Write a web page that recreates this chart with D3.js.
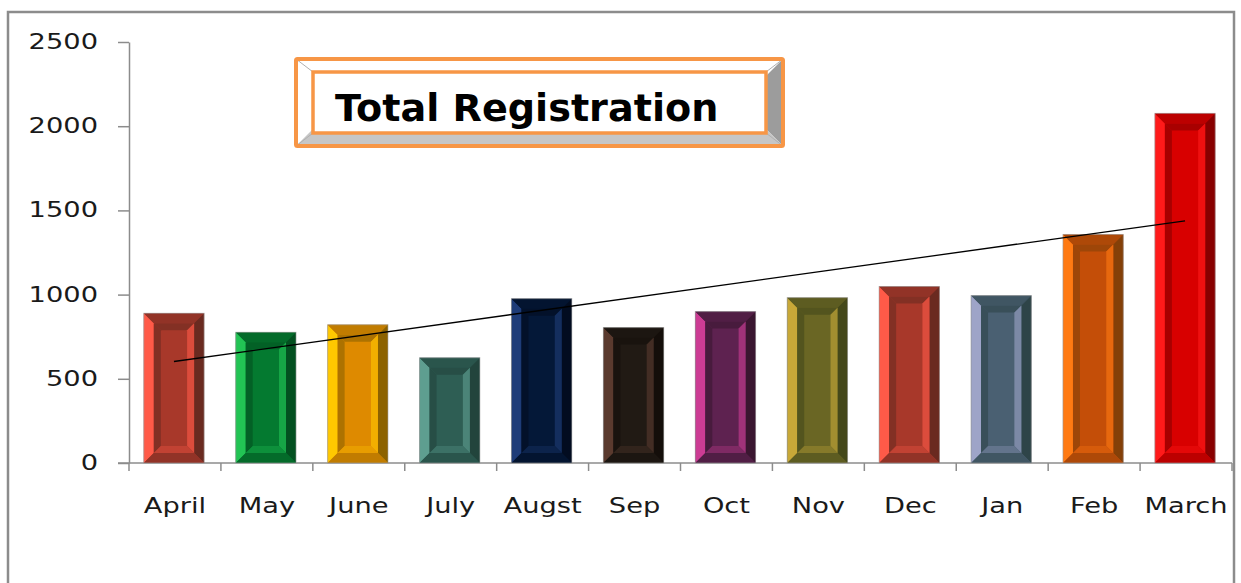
<!DOCTYPE html>
<html>
<head>
<meta charset="utf-8">
<script src="https://cdn.jsdelivr.net/npm/d3@7"></script>
<style>
  html, body { margin: 0; padding: 0; background: #fff; }
  svg { display: block; }
</style>
</head>
<body>
<div id="chart"></div>
<script>
// data
const months = ['April', 'May', 'June', 'July', 'Augst', 'Sep', 'Oct', 'Nov', 'Dec', 'Jan', 'Feb', 'March'];
const registrations = [889, 776, 821, 625, 976, 804, 899, 982, 1048, 994, 1357, 2076];
const yTicks = [0, 500, 1000, 1500, 2000, 2500];
const chartTitle = 'Total Registration';

// bevel colours for each bar: [face, light, dark]
const barColors = [
    ['#a8382a', '#ff5a48', '#6a2a20'],
    ['#047a30', '#22c454', '#035020'],
    ['#de8a00', '#ffc800', '#8c6200'],
    ['#2e5e54', '#5e9e90', '#22443c'],
    ['#041838', '#1e3c78', '#020c20'],
    ['#211a14', '#5a3a2e', '#140e0a'],
    ['#5e2250', '#cc3c94', '#3a1630'],
    ['#6a6624', '#c8a838', '#44481a'],
    ['#a8382a', '#ff5a48', '#6a2a20'],
    ['#4a6072', '#9ea4c8', '#2e4448'],
    ['#c44e08', '#ff7a12', '#844008'],
    ['#d80000', '#ff1a1a', '#880000']
];

const width = 1241, height = 583;
const plot = { left: 129, right: 1232, top: 42, bottom: 463 };
const axisColor = '#8c8c8c';

const svg = d3.select('#chart')
    .append('svg')
    .attr('width', width)
    .attr('height', height);

// outer chart frame
svg.append('rect')
    .attr('x', 8).attr('y', 12)
    .attr('width', 1226).attr('height', 620)
    .attr('fill', 'none')
    .attr('stroke', axisColor)
    .attr('stroke-width', 2.5);

const x = d3.scaleBand()
    .domain(months)
    .range([plot.left, plot.right]);

const y = d3.scaleLinear()
    .domain([0, 2500])
    .range([plot.bottom, plot.top]);

// y axis
const yAxis = svg.append('g')
    .attr('transform', `translate(${plot.left},0)`)
    .call(d3.axisLeft(y).tickValues(yTicks).tickFormat(d3.format('d')).tickSize(11).tickSizeOuter(0));
yAxis.select('.domain').attr('stroke', axisColor).attr('stroke-width', 1.5);
yAxis.selectAll('.tick line').attr('stroke', axisColor).attr('stroke-width', 1.5);
yAxis.selectAll('.tick text')
    .attr('font-family', 'DejaVu Sans, Verdana, sans-serif')
    .attr('font-size', 22)
    .attr('fill', '#1a1a1a')
    .attr('x', null)
    .attr('dy', null)
    .attr('dominant-baseline', 'central')
    .attr('transform', 'translate(-31,-1) scale(1.24,1)');

// x axis line and band edge ticks
svg.append('line')
    .attr('x1', plot.left - 11).attr('x2', plot.right)
    .attr('y1', plot.bottom).attr('y2', plot.bottom)
    .attr('stroke', axisColor).attr('stroke-width', 1.5);

const edges = months.map(m => x(m)).concat([x(months[months.length - 1]) + x.bandwidth()]);
svg.append('g')
    .selectAll('line')
    .data(edges)
    .join('line')
    .attr('x1', d => d).attr('x2', d => d)
    .attr('y1', plot.bottom).attr('y2', plot.bottom + 8)
    .attr('stroke', axisColor).attr('stroke-width', 1.5);

svg.append('g')
    .selectAll('text')
    .data(months)
    .join('text')
    .attr('transform', d => `translate(${x(d) + x.bandwidth() / 2},513) scale(1.24,1)`)
    .attr('text-anchor', 'middle')
    .attr('font-family', 'DejaVu Sans, Verdana, sans-serif')
    .attr('font-size', 22)
    .attr('fill', '#1a1a1a')
    .text(d => d);

// bars with a picture-frame bevel
const barW = x.bandwidth() * 0.656;
const outerB = 10, innerB = 7;

function ring(g, x0, y0, x1, y1, b, cols) {
    // cols: [left, top, right, bottom]
    const faces = [
        [[x0, y0], [x0 + b, y0 + b], [x0 + b, y1 - b], [x0, y1]],
        [[x0, y0], [x1, y0], [x1 - b, y0 + b], [x0 + b, y0 + b]],
        [[x1, y0], [x1, y1], [x1 - b, y1 - b], [x1 - b, y0 + b]],
        [[x0, y1], [x0 + b, y1 - b], [x1 - b, y1 - b], [x1, y1]]
    ];
    faces.forEach((pts, i) => {
        g.append('polygon')
            .attr('points', pts.map(p => p.join(',')).join(' '))
            .attr('fill', cols[i]);
    });
}

const bars = svg.append('g')
    .selectAll('g')
    .data(registrations)
    .join('g');

bars.each(function(v, i) {
    const g = d3.select(this);
    const [face, light, dark] = barColors[i];
    const mid = d3.interpolateRgb(face, dark)(0.35);
    const x0 = x(months[i]) + (x.bandwidth() - barW) / 2 - 1;
    const x1 = x0 + barW;
    const y0 = y(v), y1 = y(0);

    g.append('rect')
        .attr('x', x0).attr('y', y0)
        .attr('width', barW).attr('height', y1 - y0)
        .attr('fill', face);

    ring(g, x0, y0, x1, y1, outerB, [light, mid, dark, mid]);
    ring(g, x0 + outerB, y0 + outerB, x1 - outerB, y1 - outerB, innerB,
        [d3.interpolateRgb(face, dark)(0.6), d3.interpolateRgb(face, dark)(0.6),
         d3.interpolateRgb(face, light)(0.6), d3.interpolateRgb(face, light)(0.3)]);

    g.append('rect')
        .attr('x', x0).attr('y', y0)
        .attr('width', barW).attr('height', y1 - y0)
        .attr('fill', 'none')
        .attr('stroke', '#9a9a9a')
        .attr('stroke-opacity', 0.6)
        .attr('stroke-width', 1);
});

// linear trend line (least squares over month index)
const n = registrations.length;
const idx = d3.range(1, n + 1);
const mx = d3.mean(idx), my = d3.mean(registrations);
const slope = d3.sum(idx, (k, j) => (k - mx) * (registrations[j] - my)) / d3.sum(idx, k => (k - mx) ** 2);
const intercept = my - slope * mx;
const trend = [1, n].map(k => [x(months[k - 1]) + x.bandwidth() / 2 - 1, y(intercept + slope * k)]);

svg.append('path')
    .attr('d', d3.line()(trend))
    .attr('stroke', '#000')
    .attr('stroke-width', 1.3)
    .attr('fill', 'none');

// title box
const tb = { x0: 296, y0: 59, x1: 783, y1: 146, b: 17 };
const titleG = svg.append('g');
ring(titleG, tb.x0, tb.y0, tb.x1, tb.y1, tb.b, ['#ffffff', '#ffffff', '#9c9c9c', '#c6c6c6']);
titleG.append('rect')
    .attr('x', tb.x0 + tb.b).attr('y', tb.y0 + tb.b - 4)
    .attr('width', tb.x1 - tb.x0 - 2 * tb.b).attr('height', tb.y1 - tb.y0 - 2 * tb.b + 8)
    .attr('fill', '#fff');
[[tb.x0, tb.y0, tb.x0 + tb.b, tb.y0 + tb.b - 4], [tb.x1, tb.y0, tb.x1 - tb.b, tb.y0 + tb.b - 4],
 [tb.x0, tb.y1, tb.x0 + tb.b, tb.y1 - tb.b + 4], [tb.x1, tb.y1, tb.x1 - tb.b, tb.y1 - tb.b + 4]]
    .forEach(([a, b, c, d]) => {
        titleG.append('line')
            .attr('x1', a).attr('y1', b).attr('x2', c).attr('y2', d)
            .attr('stroke', '#b0b0b0').attr('stroke-width', 1);
    });
titleG.append('rect')
    .attr('x', tb.x0 + tb.b).attr('y', tb.y0 + tb.b - 4)
    .attr('width', tb.x1 - tb.x0 - 2 * tb.b).attr('height', tb.y1 - tb.y0 - 2 * tb.b + 8)
    .attr('fill', 'none')
    .attr('stroke', '#f79646').attr('stroke-width', 3.5);
titleG.append('rect')
    .attr('x', tb.x0).attr('y', tb.y0)
    .attr('width', tb.x1 - tb.x0).attr('height', tb.y1 - tb.y0)
    .attr('fill', 'none')
    .attr('stroke', '#f79646').attr('stroke-width', 4)
    .attr('rx', 1.5);
titleG.append('text')
    .attr('transform', 'translate(335,121) scale(1.06,1.04)')
    .attr('font-family', 'DejaVu Sans, Verdana, sans-serif')
    .attr('font-weight', 'bold')
    .attr('font-size', 36)
    .attr('fill', '#000')
    .text(chartTitle);
</script>
</body>
</html>
